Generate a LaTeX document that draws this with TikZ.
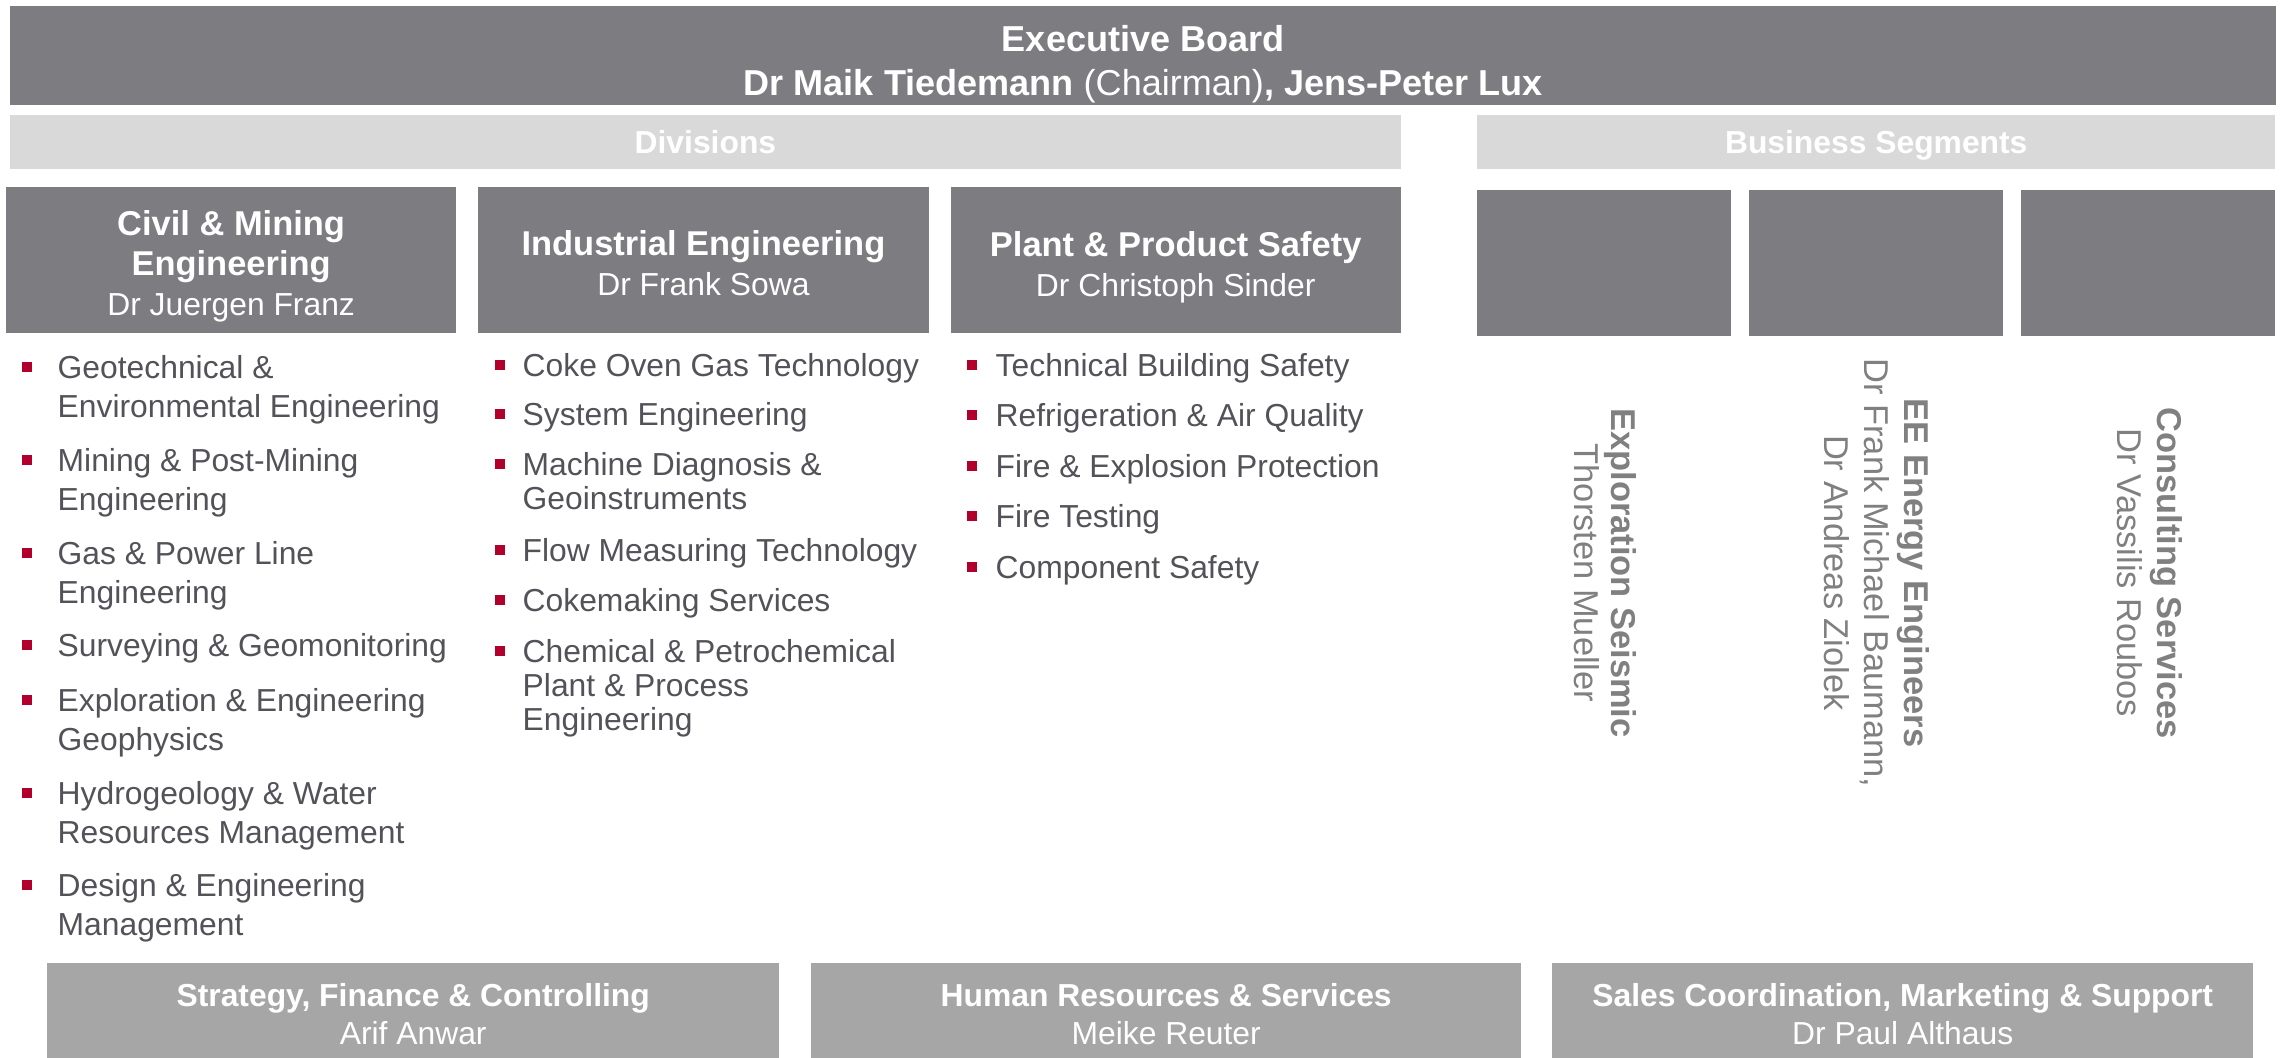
\documentclass[tikz,border=0pt]{standalone}
\usepackage{fontspec}
\setmainfont{Liberation Sans}
\usetikzlibrary{positioning}

\definecolor{boardgray}{RGB}{125,124,129}
\definecolor{bargray}{RGB}{217,217,217}
\definecolor{staffgray}{RGB}{166,166,166}
\definecolor{itemgray}{RGB}{83,82,88}
\definecolor{segtext}{RGB}{128,128,128}
\definecolor{bulletred}{RGB}{176,0,43}

\newcommand{\headfont}{\fontsize{9.8pt}{11.5pt}\selectfont\bfseries}

\tikzset{
    box/.style = {fill=boardgray, text=white, inner sep=0pt, outer sep=0pt,
                  anchor=north west, align=center},
    divbox/.style = {box, minimum width=4.5cm, minimum height=1.46cm},
    divtxt/.style = {text=white, align=center, inner sep=0pt, text depth=0pt,
                     font=\fontsize{9.05pt}{11.5pt}\selectfont},
    segbox/.style = {box, minimum width=2.54cm, minimum height=1.46cm},
    bar/.style = {box, fill=bargray, minimum height=0.54cm, text height=6.5pt,
                  text depth=0pt, font=\fontsize{9.05pt}{11pt}\selectfont\bfseries},
    staff/.style = {box, fill=staffgray, minimum height=1.02cm,
                    font=\fontsize{9.05pt}{10.8pt}\selectfont},
    bullet/.style = {fill=bulletred, inner sep=0pt, minimum size=0.095cm},
    item/.style = {anchor=base west, align=left, inner sep=0pt, text=itemgray,
                   font=\fontsize{9.05pt}{#1pt}\selectfont},
    item/.default = 9.67,
    segtxt/.style = {rotate=-90, align=center, inner sep=0pt, text=segtext,
                     font=\fontsize{9.8pt}{#1pt}\selectfont},
    segtxt/.default = 11.4
}

\begin{document}
\begin{tikzpicture}[x=0.01cm, y=-0.01cm]
    \useasboundingbox (0,0) rectangle (2282,1057);

    % board and headings
    \node[box, minimum width=22.65cm, minimum height=0.99cm] (exec) at (10,6) {};
    \node[divtxt, font=\fontsize{10.25pt}{12.5pt}\selectfont\bfseries] (exectxt)
        at ([yshift=-1.3pt]exec.center)
        {Executive Board\\Dr Maik Tiedemann {\mdseries (Chairman)}, Jens-Peter Lux};
    \node[bar, minimum width=13.9cm] (divbar) at (10,115) {Divisions};
    \node[bar, minimum width=7.98cm] (segbar) at (1477,115) {Business Segments};

    % divisions
    \node[divbox] (civil) at (6,187) {};
    \node[divbox, right=0.22cm of civil] (industrial) {};
    \node[divbox, right=0.22cm of industrial] (plant) {};
    \node[divtxt] (civiltxt) at ([yshift=-0.85pt]civil.center)
        {\headfont Civil \& Mining\\\headfont Engineering\\Dr Juergen Franz};
    \node[divtxt] (industrialtxt) at ([yshift=-0.85pt]industrial.center)
        {\headfont Industrial Engineering\\Dr Frank Sowa};
    \node[divtxt] (planttxt) at ([yshift=-1.2pt]plant.center)
        {\headfont Plant \& Product Safety\\Dr Christoph Sinder};

    % business segments
    \node[segbox] (seismic) at (1477,190) {};
    \node[segbox, right=0.18cm of seismic] (energy) {};
    \node[segbox, right=0.18cm of energy] (consulting) {};

    \node[segtxt=10.5] (seismictxt) at (1605,573)
        {\textbf{Exploration Seismic}\\Thorsten Mueller};
    \node[segtxt] (energytxt) at (1877,573)
        {\textbf{EE Energy Engineers}\\Dr Frank Michael Baumann,\\Dr Andreas Ziolek};
    \node[segtxt] (consultingtxt) at (2150,573)
        {\textbf{Consulting Services}\\Dr Vassilis Roubos};

    % civil & mining items (base = last line)
    \node[bullet] (bc1) at (27,367) {};
    \node[item=10.98] (c1) at (57,417) {Geotechnical \&\\Environmental Engineering};
    \node[bullet] (bc2) at (27,460) {};
    \node[item=10.98] (c2) at (57,510) {Mining \& Post-Mining\\Engineering};
    \node[bullet] (bc3) at (27,553) {};
    \node[item=10.98] (c3) at (57,603) {Gas \& Power Line\\Engineering};
    \node[bullet] (bc4) at (27,645) {};
    \node[item=10.98] (c4) at (57,656) {Surveying \& Geomonitoring};
    \node[bullet] (bc5) at (27,700) {};
    \node[item=10.98] (c5) at (57,750) {Exploration \& Engineering\\Geophysics};
    \node[bullet] (bc6) at (27,793) {};
    \node[item=10.98] (c6) at (57,843) {Hydrogeology \& Water\\Resources Management};
    \node[bullet] (bc7) at (27,885) {};
    \node[item=10.98] (c7) at (57,935) {Design \& Engineering\\Management};

    % industrial engineering items
    \node[bullet] (bi1) at (500,365) {};
    \node[item] (i1) at (522,376) {Coke Oven Gas Technology};
    \node[bullet] (bi2) at (500,414) {};
    \node[item] (i2) at (522,425) {System Engineering};
    \node[bullet] (bi3) at (500,464) {};
    \node[item] (i3) at (522,509) {Machine Diagnosis \&\\Geoinstruments};
    \node[bullet] (bi4) at (500,550) {};
    \node[item] (i4) at (522,561) {Flow Measuring Technology};
    \node[bullet] (bi5) at (500,600) {};
    \node[item] (i5) at (522,611) {Cokemaking Services};
    \node[bullet] (bi6) at (500,651) {};
    \node[item] (i6) at (522,730) {Chemical \& Petrochemical\\Plant \& Process\\Engineering};

    % plant & product safety items
    \node[bullet] (bp1) at (972,365) {};
    \node[item] (p1) at (995,376) {Technical Building Safety};
    \node[bullet] (bp2) at (972,415) {};
    \node[item] (p2) at (995,426) {Refrigeration \& Air Quality};
    \node[bullet] (bp3) at (972,466) {};
    \node[item] (p3) at (995,477) {Fire \& Explosion Protection};
    \node[bullet] (bp4) at (972,516) {};
    \node[item] (p4) at (995,527) {Fire Testing};
    \node[bullet] (bp5) at (972,567) {};
    \node[item] (p5) at (995,578) {Component Safety};

    % central functions
    \node[staff, minimum width=7.32cm] (strategy) at (47,963)
        {\textbf{Strategy, Finance \& Controlling}\\Arif Anwar};
    \node[staff, minimum width=7.10cm] (hr) at (811,963)
        {\textbf{Human Resources \& Services}\\Meike Reuter};
    \node[staff, minimum width=7.01cm] (sales) at (1552,963)
        {\textbf{Sales Coordination, Marketing \& Support}\\Dr Paul Althaus};
\end{tikzpicture}
\end{document}
